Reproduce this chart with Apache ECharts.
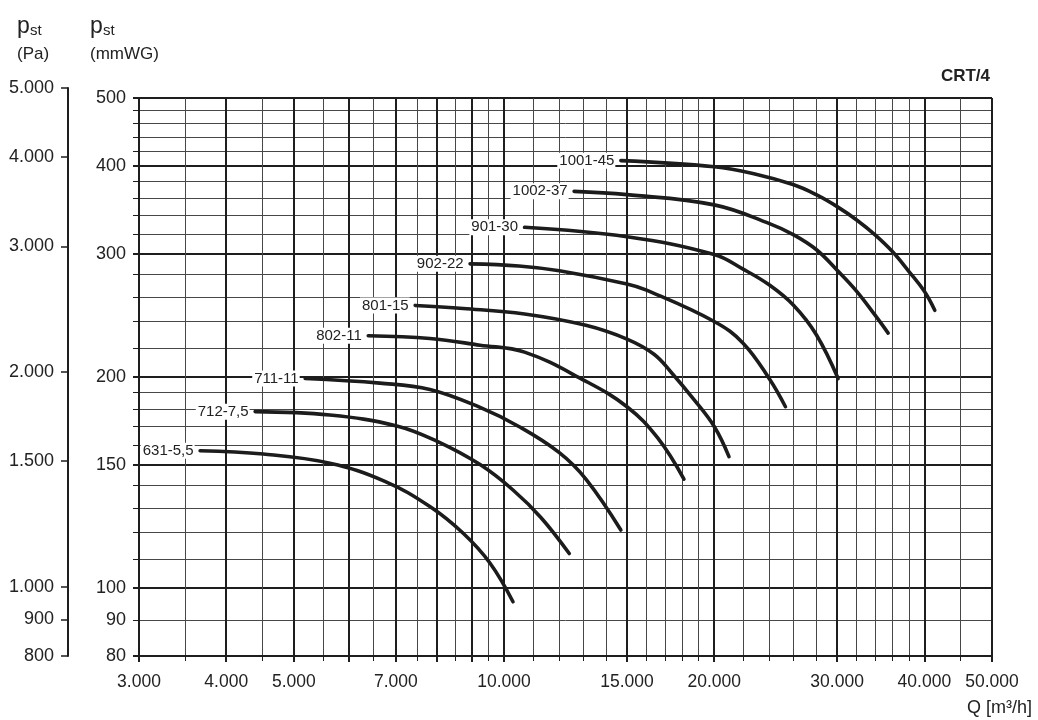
<!DOCTYPE html>
<html><head><meta charset="utf-8">
<script src="https://cdn.jsdelivr.net/npm/echarts@6/dist/echarts.min.js"></script>
<style>html,body{margin:0;padding:0;background:#fff}#c{width:1038px;height:720px}</style>
</head><body><div id="c"></div>
<script>
// ---- data (Q in m3/h, p_st in mmWG) ----
const curveNames = ['1001-45','1002-37','901-30','902-22','801-15','802-11','711-11','712-7,5','631-5,5'];
const q_1001_45 = [14700, 20000, 22800, 26000, 28000, 30000, 32000, 34000, 36000, 38000, 40000, 41400];
const p_1001_45 = [407, 399, 390, 376, 364, 350, 335, 319, 302, 283, 265, 249];
const q_1002_37 = [12600, 15000, 20000, 24000, 26000, 28000, 30000, 32000, 34000, 35500];
const p_1002_37 = [368, 364, 352, 331, 319, 304, 284, 265, 245, 231];
const q_901_30 = [10700, 15000, 20000, 22000, 24000, 26000, 28000, 30100];
const p_901_30 = [327, 317, 299, 285, 270.5, 253, 230, 199];
const q_902_22 = [8940, 10500, 12000, 15000, 16000, 20000, 22000, 24000, 25300];
const p_902_22 = [290, 288, 283.5, 271.5, 266, 240, 223.5, 198.7, 181.4];
const q_801_15 = [7460, 8740, 10700, 13100, 15000, 16400, 17400, 18600, 20000, 21000];
const p_801_15 = [253, 250.5, 246, 237, 226.5, 215.5, 202.5, 187, 170, 154];
const q_802_11 = [6390, 7830, 9240, 10700, 13000, 15000, 16600, 18100];
const p_802_11 = [229, 227, 222, 217, 198, 181.4, 163.7, 143];
const q_711_11 = [5190, 6640, 7830, 9240, 10500, 12000, 13100, 14700];
const p_711_11 = [199, 196, 192, 181, 170, 156, 143, 121];
const q_712_75 = [4400, 5630, 7020, 8010, 9240, 10300, 11300, 12400];
const p_712_75 = [178.5, 176.5, 170.3, 162, 150, 138, 126, 112];
const q_631_55 = [3670, 4520, 5630, 6750, 7830, 8740, 9550, 10300];
const p_631_55 = [157, 155.3, 150.7, 142, 130.7, 119.7, 108.5, 95.6];

// ---- axes: tick labels and grid lines ----
const xTickLabels = [3000, 4000, 5000, 7000, 10000, 15000, 20000, 30000, 40000, 50000];
const xMajorLines = [3000, 4000, 5000, 6000, 7000, 8000, 9000, 10000, 15000, 20000, 30000, 40000, 50000];
const xMinorLines = [3500, 4500, 5500, 6500, 7500, 8500, 9500, 11000, 12000, 13000, 14000, 16000, 17000, 18000, 19000, 22000, 24000, 26000, 28000, 32000, 34000, 36000, 38000, 45000];
const yTickLabels = [80, 90, 100, 150, 200, 300, 400, 500];
const yMajorLines = [80, 100, 150, 200, 300, 400, 500];
const yMinorLines = [90, 110, 120, 130, 140, 160, 170, 180, 190, 220, 240, 260, 280, 320, 340, 360, 380, 420, 440, 460, 480];
const paTickLabels = [800, 900, 1000, 1500, 2000, 3000, 4000, 5000];

const curves = [
  [q_1001_45, p_1001_45], [q_1002_37, p_1002_37], [q_901_30, p_901_30],
  [q_902_22, p_902_22], [q_801_15, p_801_15], [q_802_11, p_802_11],
  [q_711_11, p_711_11], [q_712_75, p_712_75], [q_631_55, p_631_55]
];

const FONT = "'Liberation Sans', Arial, Helvetica, sans-serif";
const INK = '#222';
const MAJ = '#1e1e1e';
const MIN = '#474747';

function fmt(v) {
  v = Math.round(v);
  if (v < 1000) return String(v);
  const t = Math.floor(v / 1000), r = v % 1000;
  return t + '.' + String(r).padStart(3, '0');
}

const chart = echarts.init(document.getElementById('c'), null, {renderer: 'canvas'});

const xBase = {type: 'log', logBase: 10, min: 3000, max: 50000, gridIndex: 0, position: 'bottom'};
const yBase = {type: 'log', logBase: 10, min: 80, max: 500, gridIndex: 0, position: 'left'};

const option = {
  animation: false,
  backgroundColor: '#fff',
  textStyle: {fontFamily: FONT},
  grid: [
    {left: 139, right: 46, top: 98, bottom: 64, outerBoundsMode: 'none', containLabel: false},
    {left: 68, width: 2, top: 88, bottom: 64, outerBoundsMode: 'none', containLabel: false}
  ],
  xAxis: [
    Object.assign({}, xBase, {
      axisLine: {show: true, onZero: false, lineStyle: {color: MAJ, width: 2}},
      axisTick: {show: true, customValues: xMajorLines, length: 6, lineStyle: {color: MAJ, width: 2}},
      axisLabel: {show: true, customValues: xTickLabels, formatter: fmt, fontSize: 17.5, color: INK, fontFamily: FONT, margin: 17},
      splitLine: {show: true, lineStyle: {color: MAJ, width: 2}},
      minorTick: {show: false}, minorSplitLine: {show: false}
    }),
    Object.assign({}, xBase, {
      axisLine: {show: false, onZero: false},
      axisTick: {show: true, customValues: xMinorLines, length: 5, lineStyle: {color: MAJ, width: 1}},
      axisLabel: {show: false},
      splitLine: {show: true, lineStyle: {color: MIN, width: 1}}
    }),
    {type: 'value', gridIndex: 1, show: false, min: 0, max: 1}
  ],
  yAxis: [
    Object.assign({}, yBase, {
      axisLine: {show: true, onZero: false, lineStyle: {color: MAJ, width: 2}},
      axisTick: {show: true, customValues: yMajorLines, length: 6, lineStyle: {color: MAJ, width: 2}},
      axisLabel: {show: true, customValues: yTickLabels, formatter: fmt, fontSize: 18, color: INK, fontFamily: FONT, margin: 13},
      splitLine: {show: true, lineStyle: {color: MAJ, width: 2}}
    }),
    Object.assign({}, yBase, {
      axisLine: {show: false, onZero: false},
      axisTick: {show: true, customValues: yMinorLines, length: 6, lineStyle: {color: MAJ, width: 1}},
      axisLabel: {show: false},
      splitLine: {show: true, lineStyle: {color: MIN, width: 1}}
    }),
    {
      type: 'log', logBase: 10, min: 800, max: 5000, gridIndex: 1, position: 'left',
      axisLine: {show: true, onZero: false, lineStyle: {color: MAJ, width: 2}},
      axisTick: {show: true, customValues: paTickLabels, length: 7, lineStyle: {color: MAJ, width: 1.5}},
      axisLabel: {show: true, customValues: paTickLabels, formatter: fmt, fontSize: 18, color: INK, fontFamily: FONT, margin: 14},
      splitLine: {show: false}
    }
  ],
  graphic: [
    {type: 'text', x: 17, y: 27, style: {text: 'p', font: '23px ' + FONT, fill: INK, verticalAlign: 'middle'}},
    {type: 'text', x: 30, y: 31, style: {text: 'st', font: '15px ' + FONT, fill: INK, verticalAlign: 'middle'}},
    {type: 'text', x: 17, y: 54, style: {text: '(Pa)', font: '17px ' + FONT, fill: INK, verticalAlign: 'middle'}},
    {type: 'text', x: 90, y: 27, style: {text: 'p', font: '23px ' + FONT, fill: INK, verticalAlign: 'middle'}},
    {type: 'text', x: 103, y: 31, style: {text: 'st', font: '15px ' + FONT, fill: INK, verticalAlign: 'middle'}},
    {type: 'text', x: 90, y: 54, style: {text: '(mmWG)', font: '17px ' + FONT, fill: INK, verticalAlign: 'middle'}},
    {type: 'text', x: 990, y: 76, style: {text: 'CRT/4', font: 'bold 17px ' + FONT, fill: INK, align: 'right', verticalAlign: 'middle'}},
    {type: 'text', x: 1032, y: 708, style: {text: 'Q [m³/h]', font: '18px ' + FONT, fill: INK, align: 'right', verticalAlign: 'middle'}}
  ],
  series: curves.map((c, k) => ({
    type: 'line',
    name: curveNames[k],
    xAxisIndex: 0, yAxisIndex: 0,
    smooth: 0.4,
    symbol: 'circle', symbolSize: 1, showSymbol: true,
    itemStyle: {color: '#1c1c1c'},
    lineStyle: {color: '#1c1c1c', width: 3.6, cap: 'round', join: 'round'},
    z: 5,
    emphasis: {disabled: true},
    data: c[0].map((q, i) => i === 0 ? {
      value: [q, c[1][i]],
      label: {show: true, position: 'left', distance: 5, formatter: curveNames[k],
              fontSize: 15, color: INK, fontFamily: FONT, backgroundColor: '#fff', padding: [1, 1, 0, 2]}
    } : [q, c[1][i]])
  }))
};
chart.setOption(option);
</script>
</body></html>
